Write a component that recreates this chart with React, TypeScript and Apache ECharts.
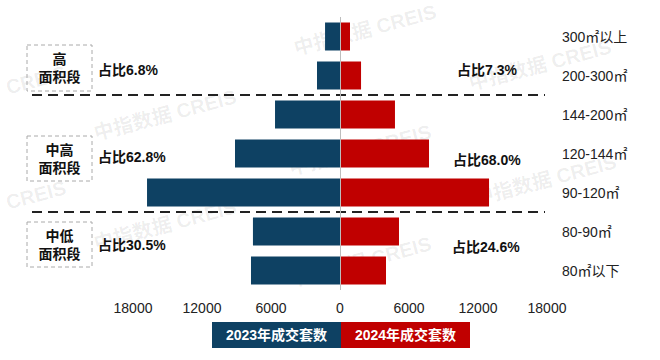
import React, { useEffect, useRef } from "react";
import * as echarts from "echarts";

const categories = ["300㎡以上", "200-300㎡", "144-200㎡", "120-144㎡", "90-120㎡", "80-90㎡", "80㎡以下"];
const values2023 = [1300, 2000, 5650, 9130, 16780, 7570, 7740];
const values2024 = [870, 1830, 4780, 7740, 12960, 5130, 4000];
const xTicks = { min: -18000, max: 18000, interval: 6000 };
const seriesNames = ["2023年成交套数", "2024年成交套数"];
const groupNames = ["高\n面积段", "中高\n面积段", "中低\n面积段"];
const share2023 = ["占比6.8%", "占比62.8%", "占比30.5%"];
const share2024 = ["占比7.3%", "占比68.0%", "占比24.6%"];

const BLUE = "#0e4163";
const RED = "#c00000";
const FONT = "'Liberation Sans', Arial, 'Noto Sans CJK SC', sans-serif";

export default function App() {
  const ref = useRef<HTMLDivElement>(null);
  useEffect(() => {
    if (!ref.current) return;
    document.body.style.margin = "0";
    const chart = echarts.init(ref.current, undefined, { renderer: "svg" });

    const gridTop = 17;
    const gridH = 273;
    const band = gridH / categories.length;
    const sepYs = [gridTop + 2 * band, gridTop + 5 * band];

    const boxes = [
      { y: 45, h: 46 },
      { y: 136, h: 45 },
      { y: 222, h: 45 },
    ];
    const leftShareY = [70, 157, 245];
    const rightShare = [
      { x: 457, y: 70 },
      { x: 453, y: 160 },
      { x: 452, y: 247 },
    ];

    const watermarks: [number, number, string][] = [
      [36, 80, "CREIS"], [365, 30, "中指数据 CREIS"], [540, 65, "中指数据 CREIS"],
      [165, 115, "中指数据 CREIS"], [360, 150, "中指数据 CREIS"],
      [545, 180, "中指数据 CREIS"], [36, 195, "CREIS"], [165, 225, "中指数据 CREIS"],
      [360, 262, "中指数据 CREIS"],
    ];

    const graphic: any[] = [];
    watermarks.forEach(([x, y, t]) => {
      graphic.push({
        type: "text",
        x, y,
        rotation: 0.26,
        z: -10,
        silent: true,
        style: {
          text: t,
          fill: "rgba(0,0,0,0.07)",
          font: `bold 20px ${FONT}`,
          align: "center",
          verticalAlign: "middle",
        },
      });
    });
    sepYs.forEach((y) => {
      graphic.push({
        type: "line",
        shape: { x1: 32, y1: y, x2: 545, y2: y },
        style: { stroke: "#222", lineWidth: 2, lineDash: [10, 6] },
        z: 5,
      });
    });
    boxes.forEach((b, i) => {
      graphic.push({
        type: "rect",
        shape: { x: 27, y: b.y, width: 65, height: b.h },
        style: { fill: "none", stroke: "#aaa", lineWidth: 1, lineDash: [4, 3] },
        z: 5,
      });
      graphic.push({
        type: "text",
        x: 59.5,
        y: b.y + b.h / 2,
        z: 6,
        style: {
          text: groupNames[i],
          fill: "#111",
          font: `bold 14px ${FONT}`,
          align: "center",
          verticalAlign: "middle",
          lineHeight: 18,
        },
      });
      graphic.push({
        type: "text",
        x: 98,
        y: leftShareY[i],
        z: 6,
        style: {
          text: share2023[i],
          fill: "#111",
          font: `bold 14px ${FONT}`,
          align: "left",
          verticalAlign: "middle",
        },
      });
      graphic.push({
        type: "text",
        x: rightShare[i].x,
        y: rightShare[i].y,
        z: 6,
        style: {
          text: share2024[i],
          fill: "#111",
          font: `bold 14px ${FONT}`,
          align: "left",
          verticalAlign: "middle",
        },
      });
    });
    [BLUE, RED].forEach((c, i) => {
      const x = 212 + i * 129;
      graphic.push({
        type: "rect",
        shape: { x, y: 322, width: 129, height: 26 },
        style: { fill: c },
        z: 5,
      });
      graphic.push({
        type: "text",
        x: x + 64.5,
        y: 335,
        z: 6,
        style: {
          text: seriesNames[i],
          fill: "#fff",
          font: `bold 14px ${FONT}`,
          align: "center",
          verticalAlign: "middle",
        },
      });
    });

    chart.setOption({
      animation: false,
      grid: { left: 133, right: 113, top: gridTop, height: gridH },
      xAxis: {
        type: "value",
        min: xTicks.min,
        max: xTicks.max,
        interval: xTicks.interval,
        axisLine: { show: false },
        axisTick: { show: false },
        splitLine: { show: false },
        axisLabel: {
          formatter: (v: number) => String(Math.abs(v)),
          color: "#222",
          fontSize: 14,
          fontFamily: FONT,
          margin: 11,
        },
      },
      yAxis: {
        type: "category",
        data: categories,
        inverse: true,
        position: "right",
        axisLine: { show: false },
        axisTick: { show: false },
        splitLine: { show: false },
        axisLabel: {
          color: "#222",
          fontSize: 14,
          fontFamily: FONT,
          margin: 15,
          align: "left",
        },
      },
      graphic,
      series: [
        {
          name: seriesNames[0],
          type: "bar",
          stack: "total",
          data: values2023.map((v) => -v),
          barWidth: 28,
          itemStyle: { color: BLUE },
          markLine: {
            silent: true,
            symbol: "none",
            label: { show: false },
            lineStyle: { color: "#bdbdbd", type: "solid", width: 1 },
            data: [{ xAxis: 0 }],
          },
        },
        {
          name: seriesNames[1],
          type: "bar",
          stack: "total",
          data: values2024,
          barWidth: 28,
          itemStyle: { color: RED },
        },
      ],
    });
    return () => chart.dispose();
  }, []);
  return <div ref={ref} style={{ width: 660, height: 360 }} />;
}
